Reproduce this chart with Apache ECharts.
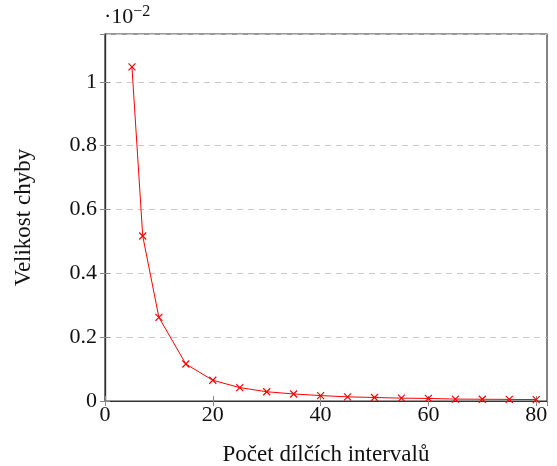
<!DOCTYPE html>
<html><head><meta charset="utf-8">
<script src="https://cdn.jsdelivr.net/npm/echarts@6/dist/echarts.min.js"></script>
<style>html,body{margin:0;padding:0;background:#fff}#c{width:557px;height:466px}</style>
</head><body><div id="c"></div>
<script>
var xValues = [5, 7, 10, 15, 20, 25, 30, 35, 40, 45, 50, 55, 60, 65, 70, 75, 80];
var yValues = [1.047, 0.517, 0.262, 0.116, 0.065, 0.042, 0.029, 0.022, 0.017, 0.013, 0.011, 0.009, 0.008, 0.006, 0.0055, 0.005, 0.0045];
var xTitle = 'Počet dílčích intervalů';
var yTitle = 'Velikost chyby';
var F = 'Liberation Serif';
var chart = echarts.init(document.getElementById('c'));
var data = xValues.map(function (x, i) { return [x, yValues[i]]; });
var axisLineStyle = {color: '#333', width: 1.2};
var tick = {show: true, inside: true, length: 5, lineStyle: {color: '#888', width: 1}};
chart.setOption({
  animation: false,
  grid: {left: 105, right: 10, top: 34, bottom: 65, containLabel: false, outerBoundsMode: 'none',
    show: true, borderColor: '#333', borderWidth: 1.2, backgroundColor: 'transparent'},
  graphic: [{type: 'text', left: 104, top: 4, style: {
    text: '·10{s|−2}', font: '22px "' + F + '"', fill: '#111',
    rich: {s: {fontSize: 16, fontFamily: F, verticalAlign: 'top', padding: [0,0,10,0]}}
  }}],
  xAxis: [{
    type: 'value', min: 0, max: 82, interval: 20,
    name: xTitle, nameLocation: 'middle', nameGap: 42,
    nameTextStyle: {fontFamily: F, fontSize: 23, color: '#111'},
    axisLine: {show: true, onZero: false, lineStyle: axisLineStyle},
    axisTick: tick,
    axisLabel: {fontFamily: F, fontSize: 22, color: '#111', margin: 3, showMaxLabel: false},
    splitLine: {show: false}
  }, {
    type: 'value', position: 'top', min: 0, max: 82, interval: 20,
    axisLine: {show: true, lineStyle: axisLineStyle},
    axisTick: tick, axisLabel: {show: false}, splitLine: {show: false}
  }],
  yAxis: [{
    type: 'value', min: 0, max: 1.15, interval: 0.2,
    name: yTitle, nameLocation: 'middle', nameGap: 70, nameRotate: 90,
    nameTextStyle: {fontFamily: F, fontSize: 23, color: '#111'},
    axisLine: {show: true, onZero: false, lineStyle: axisLineStyle},
    axisTick: tick,
    axisLabel: {fontFamily: F, fontSize: 22, color: '#111', margin: 8, showMaxLabel: false},
    splitLine: {show: true, lineStyle: {color: '#c8c8c8', type: [6, 5], width: 1}}
  }, {
    type: 'value', position: 'right', min: 0, max: 1.15, interval: 0.2,
    axisLine: {show: true, lineStyle: axisLineStyle},
    axisTick: tick, axisLabel: {show: false}, splitLine: {show: false}
  }],
  series: [{
    type: 'line', data: data, xAxisIndex: 0, yAxisIndex: 0,
    lineStyle: {color: '#ff0000', width: 1},
    symbol: 'path://M0,0L10,10M10,0L0,10', symbolSize: 7,
    itemStyle: {color: 'rgba(0,0,0,0)', borderColor: '#ff0000', borderWidth: 1.2},
    showSymbol: true, z: 5
  }, {
    type: 'line', data: [], xAxisIndex: 1, yAxisIndex: 1
  }]
});
</script></body></html>
